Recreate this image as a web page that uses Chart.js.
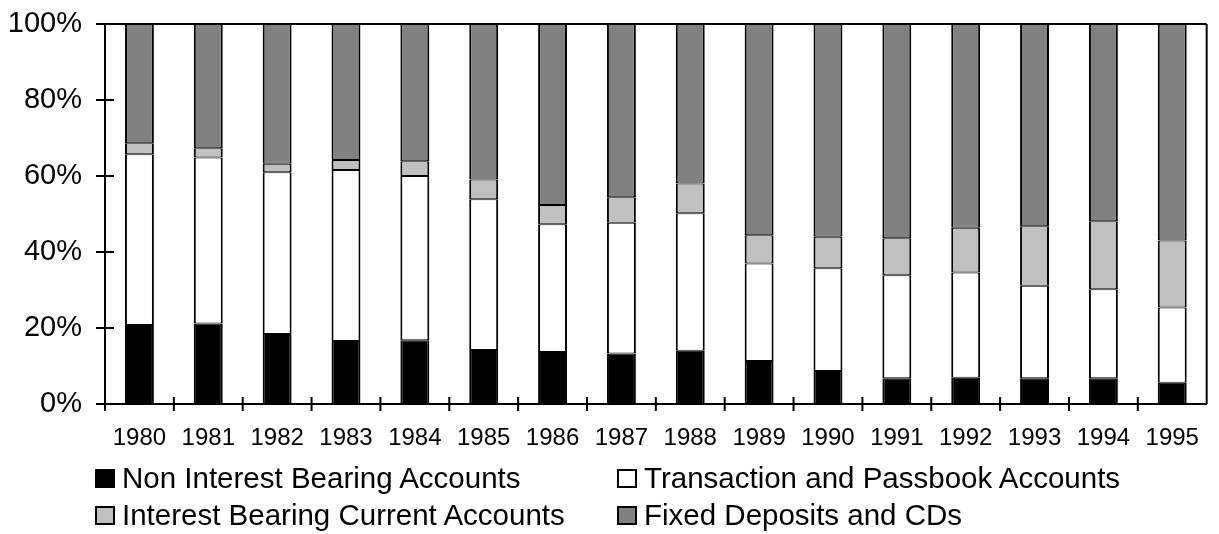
<!DOCTYPE html>
<html>
<head>
<meta charset="utf-8">
<script src="https://cdn.jsdelivr.net/npm/chart.js@4.4.1/dist/chart.umd.min.js"></script>
<style>
  html, body { margin: 0; padding: 0; background: #fff; }
  #wrap { position: relative; width: 1219px; height: 534px; font-family: "Liberation Sans", Arial, sans-serif; }
  #legend { position: absolute; left: 95px; top: 465px; width: 1120px; display: grid; grid-template-columns: 522px 590px; row-gap: 11px; }
  .item { display: flex; align-items: center; height: 26px; font-size: 29.5px; color: #000; white-space: nowrap; }
  .box { width: 16px; height: 15px; border: 2px solid #000; margin-right: 7px; flex: none; }
</style>
</head>
<body>
<div id="wrap">
  <canvas id="c" width="1219" height="534"></canvas>
  <div id="legend"></div>
</div>
<script>
const years = ["1980","1981","1982","1983","1984","1985","1986","1987","1988","1989","1990","1991","1992","1993","1994","1995"];
const nonInterest   = [20.8, 21.2, 18.4, 16.6, 16.8, 14.2, 13.7, 13.3, 14.0, 11.3, 8.7, 6.8, 6.9, 6.8, 6.8, 5.6];
const transaction   = [44.9, 43.7, 42.6, 45.0, 43.2, 39.7, 33.6, 34.4, 36.2, 25.7, 27.0, 27.1, 27.7, 24.3, 23.4, 19.8];
const interestCurr  = [2.9, 2.4, 2.2, 2.6, 3.9, 5.2, 5.1, 6.7, 7.8, 7.4, 8.3, 9.7, 11.8, 15.7, 17.9, 17.6];
const fixedDeposits = [31.4, 32.7, 36.8, 35.8, 36.1, 40.9, 47.6, 45.6, 42.0, 55.6, 56.0, 56.4, 53.6, 53.2, 51.9, 57.0];
const yTicks = [0, 20, 40, 60, 80, 100];

const FONT = "'Liberation Sans', Arial, sans-serif";

function ds(label, data, color) {
  return {
    label, data,
    backgroundColor: color,
    borderColor: '#000',
    borderWidth: { left: 2, right: 2, top: 1, bottom: 1 },
    borderSkipped: false,
    categoryPercentage: 1.0,
    barPercentage: 0.42
  };
}

const frame = {
  id: 'frame',
  afterDatasetsDraw(chart) {
    const ctx = chart.ctx, a = chart.chartArea;
    const xs = chart.scales.x, ys = chart.scales.y;
    ctx.save();
    ctx.strokeStyle = '#000';
    ctx.lineWidth = 2;
    ctx.beginPath();
    ctx.moveTo(a.left - 9, a.top); ctx.lineTo(a.right, a.top);
    ctx.moveTo(a.right, a.top); ctx.lineTo(a.right, a.bottom);
    yTicks.forEach(v => {
      const y = ys.getPixelForValue(v);
      ctx.moveTo(a.left - 9, y); ctx.lineTo(a.left + 9, y);
    });
    for (let i = 0; i < years.length; i++) {
      const x = xs.getPixelForValue(i - 0.5);
      ctx.moveTo(x, a.bottom - 7); ctx.lineTo(x, a.bottom + 7);
    }
    ctx.stroke();
    ctx.restore();
  }
};

const chart = new Chart(document.getElementById('c'), {
  type: 'bar',
  data: {
    labels: years,
    datasets: [
      ds('Non Interest Bearing Accounts', nonInterest, '#000000'),
      ds('Transaction and Passbook Accounts', transaction, '#ffffff'),
      ds('Interest Bearing Current Accounts', interestCurr, '#c0c0c0'),
      ds('Fixed Deposits and CDs', fixedDeposits, '#808080')
    ]
  },
  options: {
    responsive: false,
    animation: false,
    layout: { padding: { top: 24, right: 2, bottom: 74, left: 0 } },
    plugins: { legend: { display: false }, tooltip: { enabled: false } },
    scales: {
      x: {
        stacked: true,
        grid: { display: false, drawTicks: false },
        border: { display: true, color: '#000', width: 2 },
        ticks: { color: '#000', font: { family: FONT, size: 24 }, padding: 20, maxRotation: 0, autoSkip: false },
        afterFit(s) { s.height = 56; }
      },
      y: {
        stacked: true,
        min: 0, max: 100,
        afterBuildTicks(s) { s.ticks = yTicks.map(v => ({ value: v })); },
        grid: { display: false, drawTicks: true, tickLength: 19 },
        border: { display: true, color: '#000', width: 2 },
        ticks: { color: '#000', font: { family: FONT, size: 29 }, padding: 4, callback: v => v + '%' },
        afterFit(s) { s.width = 105; }
      }
    }
  },
  plugins: [frame]
});

const legend = document.getElementById('legend');
chart.data.datasets.forEach(d => {
  const item = document.createElement('div');
  item.className = 'item';
  const box = document.createElement('span');
  box.className = 'box';
  box.style.background = d.backgroundColor;
  const t = document.createElement('span');
  t.textContent = d.label;
  item.appendChild(box); item.appendChild(t);
  legend.appendChild(item);
});
</script>
</body>
</html>
